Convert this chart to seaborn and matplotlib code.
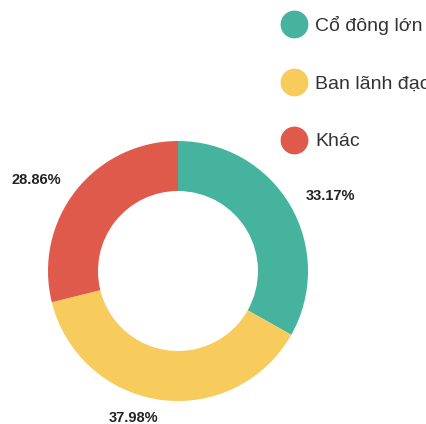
import matplotlib
matplotlib.use("Agg")
import matplotlib.pyplot as plt
from matplotlib.lines import Line2D
import seaborn as sns

sns.set_theme(style="white")
plt.rcParams["font.family"] = ["Liberation Sans", "DejaVu Sans"]

# shareholder structure
categories = ["Cổ đông lớn", "Ban lãnh đạo", "Khác"]
shares = [33.17, 37.98, 28.86]
colors = ["#45B39D", "#F7CB5C", "#E05A4B"]

palette = sns.color_palette(colors)
pct_labels = [f"{v:.2f}%" for v in shares]

fig = plt.figure(figsize=(4.27, 4.24), dpi=100)
ax = fig.add_axes([0, 0, 1, 1])

# donut centred at origin, radius in pixels
wedges, texts = ax.pie(
    shares,
    labels=pct_labels,
    colors=palette,
    startangle=90,
    counterclock=False,
    radius=130,
    labeldistance=1.14,
    wedgeprops=dict(width=50, linewidth=0),
    textprops=dict(fontsize=10.5, fontweight="bold", color="#222222"),
)
ax.set_xlim(-178, 427 - 178)
ax.set_ylim(-153, 424 - 153)
ax.set_aspect("equal")
ax.axis("off")

handles = [
    Line2D([], [], marker="o", linestyle="", markersize=19,
           markerfacecolor=c, markeredgecolor=c)
    for c in palette
]
fig.legend(
    handles, categories,
    loc="upper left",
    bbox_to_anchor=(284 / 427, 1 - 16 / 424),
    frameon=False,
    borderpad=0,
    borderaxespad=0,
    handlelength=1.0,
    handletextpad=0.6,
    labelspacing=2.06,
    fontsize=14,
    labelcolor="#333333",
)

fig.savefig("out.png", dpi=100)
